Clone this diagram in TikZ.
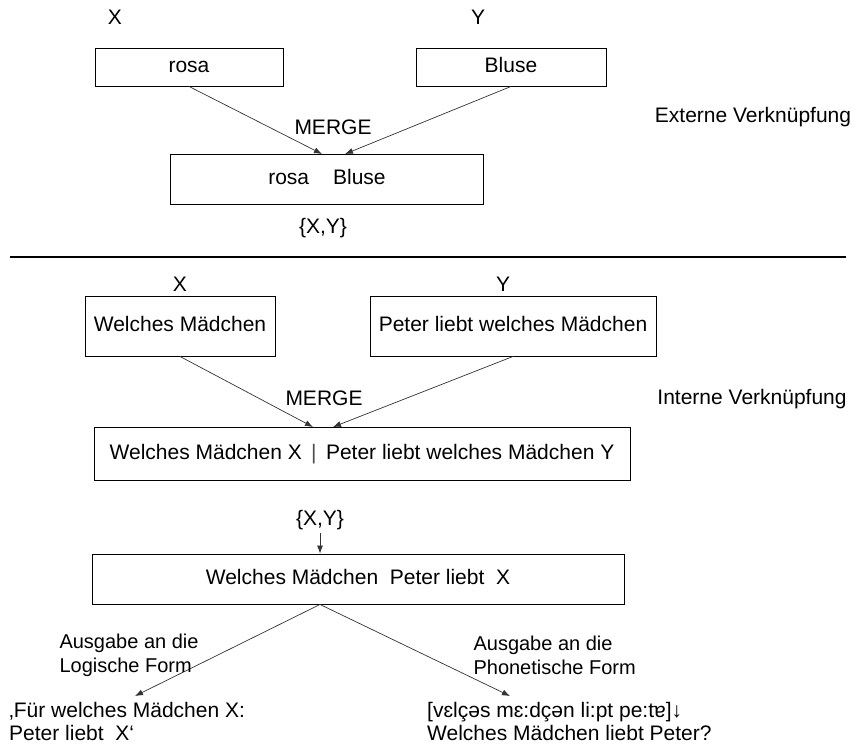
\documentclass[tikz,border=0pt]{standalone}
\usepackage{fontspec}
\setmainfont{Liberation Sans}
\usetikzlibrary{arrows.meta,positioning}

\begin{document}
\begin{tikzpicture}[x=1pt,y=-1pt,
	every node/.style={font=\fontsize{21}{24}\selectfont},
	box/.style={draw,line width=0.9pt,inner sep=0pt,text height=15pt,text depth=4pt},
	arr/.style={-{Latex[length=8pt,width=6pt]},draw=black!80,line width=0.7pt}]
	\useasboundingbox (0,0) rectangle (856,745);
	% externe Verknuepfung
	\node at (115,17) {X};
	\node at (478,17) {Y};
	\node (1) [box,minimum width=188,minimum height=38] at (189,67) {rosa};
	\node (2) [box,minimum width=190,minimum height=38] at (511,67) {Bluse};
	\node (3) [box,minimum width=313,minimum height=50] at (327,179) {rosa\hspace{24pt}Bluse};
	\node (4) at (333,127) {MERGE};
	\node (5) at (323,228) {\{X,Y\}};
	\node (6) at (753,117) {Externe Verknüpfung};
	
	\coordinate (a) at (322,154);
	\coordinate (b) at (345,154);
	
	\draw[arr] (1.south) -- (a);
	\draw[arr] (2.south) -- (b);
	
	\draw[line width=1.4pt] (10,257) -- (846,257);
	
	% interne Verknuepfung
	\node at (180,284) {X};
	\node at (503,284) {Y};
	\node (7) [box,minimum width=190,minimum height=60] at (180,326) {Welches Mädchen};
	\node (8) [box,minimum width=286,minimum height=60] at (513,326) {Peter liebt welches Mädchen};
	\node (9) [box,minimum width=536,minimum height=53] at (362,454) {Welches Mädchen X \,\textcolor{black!70}{|}\, Peter liebt welches Mädchen Y};
	\node (10) at (324,398) {MERGE};
	\node (11) at (752,399) {Interne Verknüpfung};
	\node (12) at (320,520) {\{X,Y\}};
	\node (13) [box,minimum width=532,minimum height=50] at (358,579) {Welches Mädchen\ \ Peter liebt\ \ X\hspace{68pt}};
	
	\coordinate (c) at (313,427);
	\coordinate (d) at (333,427);
	\coordinate (e) at (135,696);
	\coordinate (f) at (510,696);
	
	\draw[arr] (7.south) -- (c);
	\draw[arr] (8.south) -- (d);
	\draw[arr] (12) -- (12 |- 13.north);
	\draw[arr] (12 |- 13.south) -- (e);
	\draw[arr] (12 |- 13.south) -- (f);
	
	\node (14) [anchor=west,align=left,font=\fontsize{20}{24}\selectfont] at (56,655) {Ausgabe an die\\Logische Form};
	\node (15) [anchor=west,align=left,font=\fontsize{20}{24}\selectfont] at (470,655) {Ausgabe an die\\Phonetische Form};
	\node (16) [anchor=west,align=left,inner sep=1pt,font=\fontsize{21}{23}\selectfont] at (8,721) {‚Für welches Mädchen X:\\Peter liebt\ \ X‘};
	\node (17) [anchor=west,align=left,inner sep=1pt,font=\fontsize{21}{23}\selectfont] at (426,721) {[vɛlçəs mɛ:dçən li:pt pe:tɐ]↓\\Welches Mädchen liebt Peter?};
\end{tikzpicture}
\end{document}
